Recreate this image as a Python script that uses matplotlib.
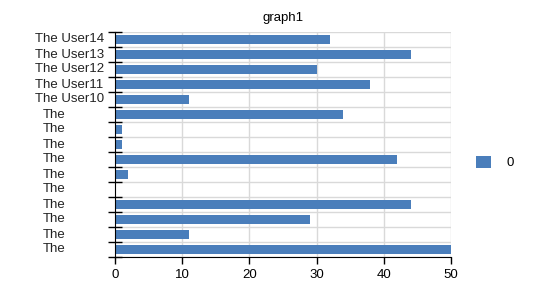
import matplotlib
matplotlib.use('Agg')
import matplotlib.pyplot as plt
import matplotlib.transforms as mtransforms
import numpy as np

plt.rcParams['font.family'] = ['Liberation Sans', 'DejaVu Sans']

# bottom to top
labels = ['The', 'The', 'The', 'The', 'The', 'The', 'The', 'The', 'The', 'The',
          'The User10', 'The User11', 'The User12', 'The User13', 'The User14']
values = [50, 11, 29, 44, 0, 2, 42, 1, 1, 34, 11, 38, 30, 44, 32]
series_name = '0'
title = 'graph1'
xticks = [0, 10, 20, 30, 40, 50]

bar_color = '#4a7ebb'
grid_color = '#d9d9d9'

fig = plt.figure(figsize=(5.54, 3.02), dpi=100)
ax = fig.add_axes([115 / 554, 1 - 257 / 302, 336 / 554, 225 / 302])

pos = np.arange(len(values))
ax.barh(pos, values, height=0.65, color=bar_color, label=series_name, zorder=3)

ax.set_xlim(0, 50)
ax.set_ylim(-0.5, len(values) - 0.5)
ax.set_xticks(xticks)
ax.set_xticklabels([str(t) for t in xticks], fontsize=9.5)

# category boundaries: ticks and horizontal grid
bounds = np.arange(len(values) + 1) - 0.5
ax.set_yticks(bounds)
ax.set_yticklabels([])
ax.tick_params(axis='y', direction='inout', length=10, width=1, color='black')
ax.tick_params(axis='x', direction='out', length=5, width=1, color='black', pad=4)

for b in bounds:
    ax.axhline(b, color=grid_color, lw=1, zorder=1)
for t in xticks[1:]:
    ax.axvline(t, color=grid_color, lw=1, zorder=1)

for s in ['top', 'right']:
    ax.spines[s].set_visible(False)
ax.spines['left'].set_zorder(4)
ax.spines['bottom'].set_zorder(4)

# category labels, left edge fixed as in the source where the tail is cut off
trans = mtransforms.blended_transform_factory(fig.transFigure, ax.transData)
for p, lab in zip(pos, labels):
    x0 = 35 / 554 if lab != 'The' else 43 / 554
    ax.text(x0, p, lab, transform=trans, ha='left', va='center', fontsize=9.5,
            color='#222222')

ax.set_title(title, fontsize=9.5, pad=8)

ax.legend(loc='center left', bbox_to_anchor=(1.04, 0.42), frameon=False,
          handlelength=1.1, handleheight=1.1, fontsize=9.5, handletextpad=1.2)

fig.savefig('out.png', dpi=100)
